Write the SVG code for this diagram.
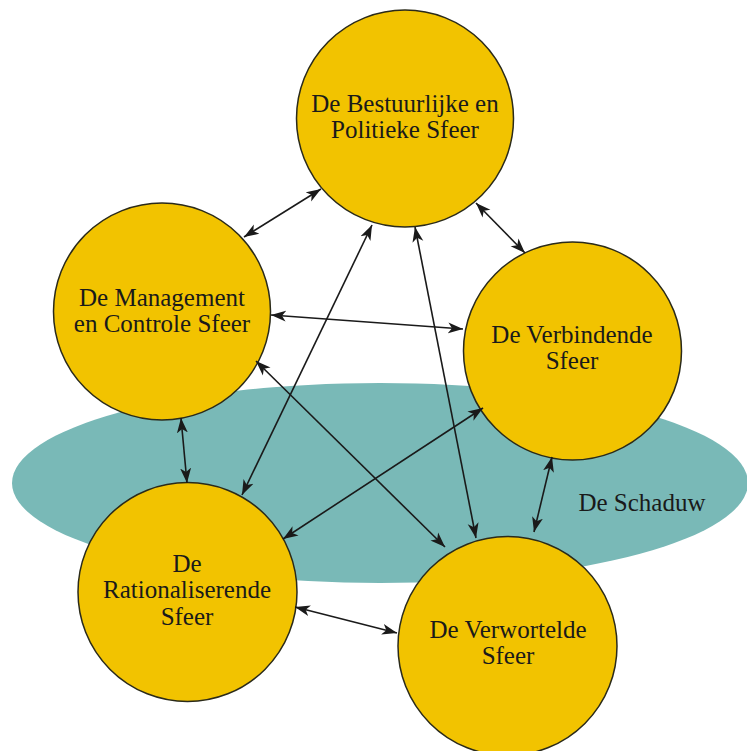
<svg xmlns="http://www.w3.org/2000/svg" width="747" height="751" viewBox="0 0 747 751">
<style>
.sph{fill:#F2C300;stroke:#2a2a1a;stroke-width:1.5}
.lbl{font-family:"Liberation Serif","Times New Roman",serif;font-size:25px;fill:#1a1a1a;text-anchor:middle}
.con line{stroke:#1a1a1a;stroke-width:1.6;marker-start:url(#ah);marker-end:url(#ah)}
</style>
<defs>
<marker id="ah" markerUnits="userSpaceOnUse" markerWidth="16" markerHeight="12" refX="15" refY="5.5" orient="auto-start-reverse" viewBox="0 0 16 11">
<path d="M0,0 L15,5.5 L0,11 L4,5.5 z" fill="#1a1a1a"/>
</marker>
</defs>
<rect width="747" height="751" fill="#ffffff"/>
<g id="schaduw">
<ellipse cx="380" cy="483" rx="368" ry="100" fill="#79B9B7"/>
<text class="lbl" x="642" y="511">De Schaduw</text>
</g>
<g id="bestuurlijke">
<circle class="sph" cx="405" cy="118.5" r="108.5"/>
<text class="lbl" x="405" y="112">De Bestuurlijke en</text>
<text class="lbl" x="405" y="138">Politieke Sfeer</text>
</g>
<g id="management">
<circle class="sph" cx="162" cy="311.5" r="108.5"/>
<text class="lbl" x="162" y="306">De Management</text>
<text class="lbl" x="162" y="332">en Controle Sfeer</text>
</g>
<g id="verbindende">
<circle class="sph" cx="572.5" cy="351" r="109"/>
<text class="lbl" x="572" y="343">De Verbindende</text>
<text class="lbl" x="572" y="369">Sfeer</text>
</g>
<g id="rationaliserende">
<circle class="sph" cx="187.5" cy="592" r="109.5"/>
<text class="lbl" x="187" y="572">De</text>
<text class="lbl" x="187" y="598">Rationaliserende</text>
<text class="lbl" x="187" y="625">Sfeer</text>
</g>
<g id="verwortelde">
<circle class="sph" cx="507.5" cy="646" r="109.5"/>
<text class="lbl" x="508" y="638">De Verwortelde</text>
<text class="lbl" x="508" y="664">Sfeer</text>
</g>
<g id="connectors" class="con">
<line x1="244" y1="237" x2="321" y2="189"/>
<line x1="476" y1="203" x2="525" y2="253"/>
<line x1="242" y1="495" x2="372" y2="225"/>
<line x1="415" y1="227" x2="476" y2="538"/>
<line x1="271" y1="315" x2="463" y2="329"/>
<line x1="256" y1="361" x2="445" y2="547"/>
<line x1="181" y1="418" x2="187" y2="483"/>
<line x1="483" y1="408" x2="283" y2="539"/>
<line x1="552" y1="457" x2="534" y2="532"/>
<line x1="295" y1="607" x2="397" y2="633"/>
</g>
</svg>
